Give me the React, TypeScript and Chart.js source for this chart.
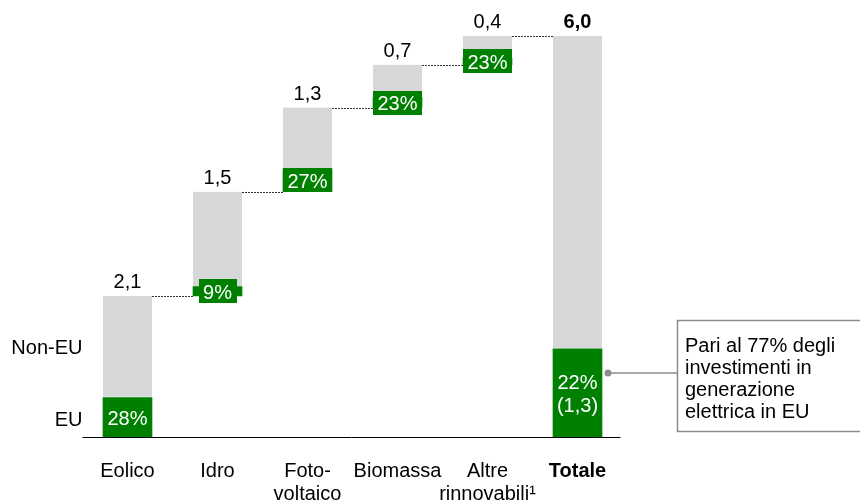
import React, { useEffect, useRef } from "react";
import { Chart, registerables } from "chart.js";

Chart.register(...registerables);

// ---- data ----
const categories: string[][] = [
  ["Eolico"],
  ["Idro"],
  ["Foto-", "voltaico"],
  ["Biomassa"],
  ["Altre", "rinnovabili\u00B9"],
  ["Totale"],
];
const values = [2.11, 1.56, 1.26, 0.64, 0.43, 6.0];
const valueLabels = ["2,1", "1,5", "1,3", "0,7", "0,4", "6,0"];
const euShare = [28, 9, 27, 23, 23, 22];
const euLabels: string[][] = [["28%"], ["9%"], ["27%"], ["23%"], ["23%"], ["22%", "(1,3)"]];
const seriesNames = ["EU", "Non-EU"];
const noteLines = ["Pari al 77% degli", "investimenti in", "generazione", "elettrica in EU"];

const GREEN = "#008000";
const GREY = "#d6d7d9";
const FONT = "'Liberation Sans', Arial, sans-serif";
const FS = 20;

const lastIdx = values.length - 1;
const bases = values.map((_, i) =>
  i === lastIdx ? 0 : values.slice(0, i).reduce((a, b) => a + b, 0)
);
const euData = values.map((v, i) => [bases[i], bases[i] + (v * euShare[i]) / 100]);
const nonEuData = values.map((v, i) => [bases[i] + (v * euShare[i]) / 100, bases[i] + v]);

const overlay = {
  id: "overlay",
  afterDatasetsDraw(chart: any) {
    const ctx: CanvasRenderingContext2D = chart.ctx;
    const ys = chart.scales.y;
    const area = chart.chartArea;
    const euMeta = chart.getDatasetMeta(0);
    const nonMeta = chart.getDatasetMeta(1);
    ctx.save();

    // baseline
    const y0 = Math.round(ys.getPixelForValue(0)) + 0.5;
    ctx.strokeStyle = "#000";
    ctx.lineWidth = 1;
    ctx.beginPath();
    ctx.moveTo(area.left, y0);
    ctx.lineTo(area.right - 2, y0);
    ctx.stroke();

    // dashed connectors
    ctx.setLineDash([2, 1]);
    ctx.strokeStyle = "#333";
    for (let i = 0; i < lastIdx; i++) {
      const a = nonMeta.data[i];
      const b = nonMeta.data[i + 1];
      const yy = Math.round(ys.getPixelForValue(bases[i] + values[i])) + 0.5;
      ctx.beginPath();
      ctx.moveTo(a.x + a.width / 2, yy);
      ctx.lineTo(b.x - b.width / 2, yy);
      ctx.stroke();
    }
    ctx.setLineDash([]);

    // value labels above bars
    ctx.textAlign = "center";
    ctx.textBaseline = "alphabetic";
    ctx.fillStyle = "#000";
    for (let i = 0; i < values.length; i++) {
      const el = nonMeta.data[i];
      ctx.font = `${i === lastIdx ? "bold " : ""}${FS}px ${FONT}`;
      ctx.fillText(valueLabels[i], el.x, el.y - 8);
    }

    // EU share labels
    ctx.font = `${FS}px ${FONT}`;
    for (let i = 0; i < values.length; i++) {
      const el = euMeta.data[i];
      const top = Math.min(el.y, el.base);
      const bot = Math.max(el.y, el.base);
      const mid = (top + bot) / 2;
      const lines = euLabels[i];
      const lh = 23;
      const boxH = 24;
      if (lines.length === 1 && bot - top < boxH) {
        const tw = ctx.measureText(lines[0]).width;
        const bw = tw + 9;
        ctx.fillStyle = GREEN;
        ctx.fillRect(Math.round(el.x - bw / 2), Math.round(mid - boxH / 2), Math.round(bw), boxH);
      }
      ctx.fillStyle = "#fff";
      lines.forEach((t, k) => {
        const cy = mid - ((lines.length - 1) * lh) / 2 + k * lh;
        ctx.fillText(t, el.x, cy + 7.4);
      });
    }

    // category labels
    ctx.fillStyle = "#000";
    for (let i = 0; i < categories.length; i++) {
      const el = nonMeta.data[i];
      ctx.font = `${i === lastIdx ? "bold " : ""}${FS}px ${FONT}`;
      categories[i].forEach((t, k) => {
        ctx.fillText(t, el.x, y0 + 39.5 + k * 23);
      });
    }

    // series labels on the left (aligned to first bar's segments)
    ctx.font = `${FS}px ${FONT}`;
    ctx.textAlign = "right";
    const e0 = euMeta.data[0];
    const n0 = nonMeta.data[0];
    ctx.fillText(seriesNames[1], area.left, (n0.y + n0.base) / 2 + 7.4);
    ctx.fillText(seriesNames[0], area.left, (e0.y + e0.base) / 2 + 8.4);

    // annotation box
    const tot = euMeta.data[lastIdx];
    const dotX = tot.x + tot.width / 2 + 6;
    const dotY = 373;
    const boxL = 677.5;
    ctx.strokeStyle = "#8c8c8c";
    ctx.lineWidth = 1.5;
    ctx.beginPath();
    ctx.moveTo(dotX, dotY);
    ctx.lineTo(boxL, dotY);
    ctx.stroke();
    ctx.fillStyle = "#8c8c8c";
    ctx.beginPath();
    ctx.arc(dotX, dotY, 3.5, 0, Math.PI * 2);
    ctx.fill();
    ctx.fillStyle = "#fff";
    ctx.fillRect(boxL, 320.5, 200, 111);
    ctx.strokeRect(boxL, 320.5, 200, 111);
    ctx.fillStyle = "#000";
    ctx.textAlign = "left";
    noteLines.forEach((t, k) => {
      ctx.fillText(t, 685, 351.5 + k * 22);
    });

    ctx.restore();
  },
};

export default function App() {
  const ref = useRef<HTMLCanvasElement | null>(null);
  useEffect(() => {
    if (!ref.current) return;
    const chart = new Chart(ref.current, {
      type: "bar",
      data: {
        labels: categories.map((c) => c.join(" ")),
        datasets: [
          {
            label: seriesNames[0],
            data: euData as any,
            backgroundColor: GREEN,
            borderWidth: 0,
            barThickness: 49,
          },
          {
            label: seriesNames[1],
            data: nonEuData as any,
            backgroundColor: GREY,
            borderColor: "#ffffff",
            borderWidth: { top: 0, left: 0, right: 0, bottom: 1 } as any,
            borderSkipped: false,
            barThickness: 49,
          },
        ],
      },
      options: {
        animation: false,
        responsive: false,
        devicePixelRatio: 1,
        layout: { padding: { left: 82.5, right: 237.5, top: 36, bottom: 65 } },
        plugins: {
          legend: { display: false },
          tooltip: { enabled: false },
          title: { display: false },
        },
        scales: {
          x: { display: false, stacked: true, grid: { display: false } },
          y: { display: false, stacked: false, min: 0, max: 6, grid: { display: false } },
        },
      },
      plugins: [overlay],
    });
    return () => chart.destroy();
  }, []);

  return (
    <div style={{ position: "absolute", left: 0, top: 0, width: 860, height: 502, background: "#fff" }}>
      <canvas ref={ref} width={860} height={502} style={{ display: "block", width: 860, height: 502 }} />
    </div>
  );
}
